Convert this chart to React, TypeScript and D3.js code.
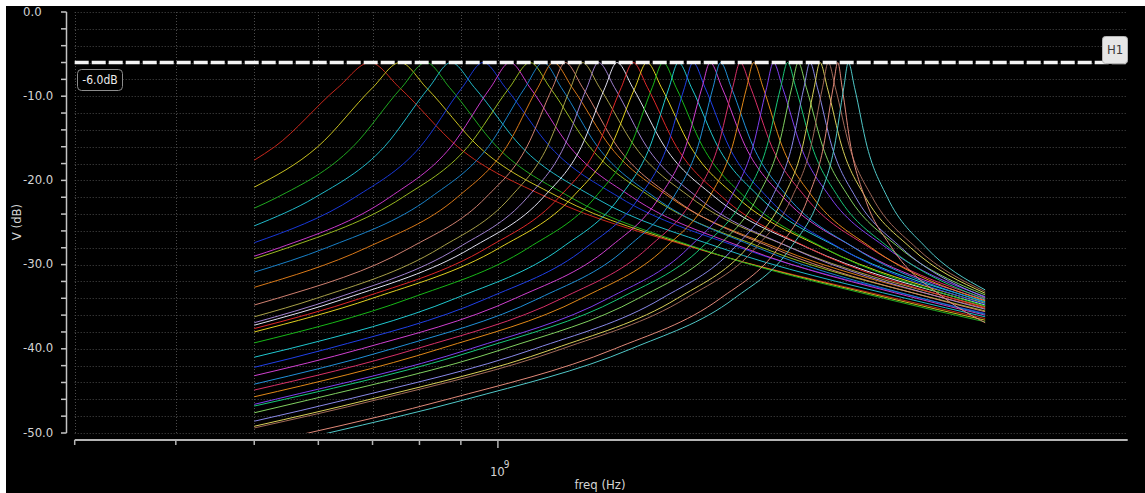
import * as d3 from 'd3';

// frequency in GHz, level in dB; each trace (start, level crossings, peak, end)
const t01 = [[0.5, -17.6], [0.53, -16], [0.634, -9], [0.695, -6], [0.756, -9], [0.892, -16], [1.149, -22], [1.745, -28], [3.092, -34], [4.0, -36.4]];
const t02 = [[0.5, -20.8], [0.599, -16], [0.7, -9], [0.757, -6], [0.816, -9], [0.947, -16], [1.19, -22], [1.755, -28], [3.044, -34], [4.0, -36.6]];
const t03 = [[0.5, -23.3], [0.534, -22], [0.662, -16], [0.76, -9], [0.815, -6], [0.872, -9], [0.997, -16], [1.229, -22], [1.763, -28], [2.995, -34], [4.0, -36.8]];
const t04 = [[0.5, -25.4], [0.595, -22], [0.724, -16], [0.8215, -9], [0.875, -6], [0.936, -9], [1.069, -16], [1.315, -22], [1.882, -28], [3.189, -34], [4.0, -36.2]];
const t05 = [[0.5, -27.4], [0.666, -22], [0.802, -16], [0.903, -9], [0.959, -6], [1.022, -9], [1.16, -16], [1.412, -22], [1.993, -28], [3.338, -34], [4.0, -35.8]];
const t06 = [[0.5, -29.0], [0.537, -28], [0.735, -22], [0.875, -16], [0.979, -9], [1.035, -6], [1.096, -9], [1.227, -16], [1.466, -22], [2.013, -28], [3.288, -34], [4.0, -36.0]];
const t07 = [[0.5, -29.3], [0.55, -28], [0.763, -22], [0.918, -16], [1.033, -9], [1.096, -6], [1.16, -9], [1.298, -16], [1.548, -22], [2.122, -28], [3.46, -34], [4.0, -35.5]];
const t08 = [[0.5, -30.9], [0.614, -28], [0.826, -22], [0.973, -16], [1.08, -9], [1.138, -6], [1.198, -9], [1.328, -16], [1.562, -22], [2.094, -28], [3.34, -34], [4.0, -35.9]];
const t09 = [[0.5, -32.7], [0.688, -28], [0.891, -22], [1.025, -16], [1.12, -9], [1.171, -6], [1.236, -9], [1.377, -16], [1.631, -22], [2.211, -28], [3.567, -34], [4.0, -35.2]];
const t10 = [[0.5, -34.8], [0.534, -34], [0.779, -28], [0.967, -22], [1.086, -16], [1.168, -9], [1.211, -6], [1.273, -9], [1.405, -16], [1.642, -22], [2.182, -28], [3.445, -34], [4.0, -35.6]];
const t11 = [[0.5, -36.2], [0.597, -34], [0.849, -28], [1.036, -22], [1.151, -16], [1.23, -9], [1.271, -6], [1.336, -9], [1.477, -16], [1.729, -22], [2.303, -28], [3.645, -34], [4.0, -35.0]];
const t12 = [[0.5, -36.9], [0.63, -34], [0.893, -28], [1.088, -22], [1.207, -16], [1.288, -9], [1.331, -6], [1.394, -9], [1.527, -16], [1.764, -22], [2.301, -28], [3.56, -34], [4.0, -35.3]];
const t13 = [[0.5, -37.2], [0.649, -34], [0.928, -28], [1.138, -22], [1.268, -16], [1.356, -9], [1.403, -6], [1.468, -9], [1.607, -16], [1.855, -22], [2.414, -28], [3.726, -34], [4.0, -34.8]];
const t14 = [[0.5, -37.6], [0.677, -34], [0.97, -28], [1.19, -22], [1.327, -16], [1.42, -9], [1.469, -6], [1.531, -9], [1.662, -16], [1.895, -22], [2.417, -28], [3.64, -34], [4.0, -35.1]];
const t15 = [[0.5, -38.0], [0.7, -34], [1.005, -28], [1.236, -22], [1.379, -16], [1.477, -9], [1.528, -6], [1.593, -9], [1.73, -16], [1.974, -22], [2.519, -28], [3.8, -34], [4.0, -34.6]];
const t16 = [[0.5, -39.3], [0.779, -34], [1.091, -28], [1.319, -22], [1.457, -16], [1.551, -9], [1.6, -6], [1.661, -9], [1.791, -16], [2.019, -22], [2.527, -28], [3.716, -34], [4.0, -34.9]];
const t17 = [[0.5, -41.0], [0.552, -40], [0.887, -34], [1.199, -28], [1.414, -22], [1.541, -16], [1.627, -9], [1.671, -6], [1.735, -9], [1.87, -16], [2.107, -22], [2.636, -28], [3.873, -34], [4.0, -34.4]];
const t18 = [[0.5, -42.2], [0.616, -40], [0.97, -34], [1.284, -28], [1.495, -22], [1.618, -16], [1.7, -9], [1.742, -6], [1.803, -9], [1.93, -16], [2.152, -22], [2.642, -28], [3.788, -34], [4.0, -34.7]];
const t19 = [[0.5, -43.2], [0.678, -40], [1.051, -34], [1.372, -28], [1.583, -22], [1.706, -16], [1.787, -9], [1.829, -6], [1.892, -9], [2.023, -16], [2.252, -22], [2.758, -28], [3.939, -34], [4.0, -34.2]];
const t20 = [[0.5, -44.2], [0.74, -40], [1.124, -34], [1.443, -28], [1.648, -22], [1.766, -16], [1.844, -9], [1.884, -6], [1.943, -9], [2.068, -16], [2.283, -22], [2.756, -28], [3.857, -34], [4.0, -34.5]];
const t21 = [[0.5, -44.9], [0.793, -40], [1.2, -34], [1.533, -28], [1.747, -22], [1.87, -16], [1.95, -9], [1.992, -6], [2.053, -9], [2.18, -16], [2.4, -22], [2.88, -28], [4.0, -34.0]];
const t22 = [[0.5, -45.7], [0.848, -40], [1.269, -34], [1.609, -28], [1.825, -22], [1.948, -16], [2.029, -9], [2.07, -6], [2.127, -9], [2.246, -16], [2.45, -22], [2.894, -28], [4.0, -34.3]];
const t23 = [[0.5, -46.6], [0.531, -46], [0.925, -40], [1.369, -34], [1.721, -28], [1.941, -22], [2.066, -16], [2.148, -9], [2.19, -6], [2.248, -9], [2.368, -16], [2.574, -22], [3.02, -28], [4.0, -33.8]];
const t24 = [[0.5, -46.8], [0.545, -46], [0.952, -40], [1.415, -34], [1.784, -28], [2.017, -22], [2.149, -16], [2.235, -9], [2.28, -6], [2.334, -9], [2.445, -16], [2.635, -22], [3.043, -28], [4.0, -34.1]];
const t25 = [[0.5, -47.6], [0.588, -46], [1.018, -40], [1.492, -34], [1.862, -28], [2.092, -22], [2.222, -16], [2.307, -9], [2.35, -6], [2.405, -9], [2.52, -16], [2.715, -22], [3.133, -28], [4.0, -33.6]];
const t26 = [[0.5, -48.6], [0.652, -46], [1.11, -40], [1.595, -34], [1.959, -28], [2.182, -22], [2.307, -16], [2.388, -9], [2.43, -6], [2.482, -9], [2.587, -16], [2.767, -22], [3.151, -28], [4.0, -33.9]];
const t27 = [[0.5, -49.2], [0.695, -46], [1.172, -40], [1.667, -34], [2.033, -28], [2.255, -22], [2.379, -16], [2.459, -9], [2.5, -6], [2.553, -9], [2.661, -16], [2.845, -22], [3.236, -28], [4.0, -33.4]];
const t28 = [[0.5, -49.4], [0.712, -46], [1.201, -40], [1.707, -34], [2.082, -28], [2.309, -22], [2.436, -16], [2.518, -9], [2.56, -6], [2.612, -9], [2.719, -16], [2.901, -22], [3.288, -28], [4.0, -33.2]];
const t29 = [[0.5, -51.4], [0.583, -50], [0.866, -46], [1.394, -40], [1.884, -34], [2.221, -28], [2.418, -22], [2.525, -16], [2.595, -9], [2.63, -6], [2.663, -9], [2.729, -16], [2.839, -22], [3.067, -28], [3.565, -34], [4.0, -36.9]];
const t30 = [[0.5, -52.0], [0.617, -50], [0.914, -46], [1.461, -40], [1.96, -34], [2.3, -28], [2.497, -22], [2.605, -16], [2.675, -9], [2.71, -6], [2.759, -9], [2.859, -16], [3.028, -22], [3.383, -28], [4.0, -33.0]];

const traces = [t01, t02, t03, t04, t05, t06, t07, t08, t09, t10, t11, t12, t13, t14, t15,
  t16, t17, t18, t19, t20, t21, t22, t23, t24, t25, t26, t27, t28, t29, t30];

const traceColors = [
  '#c8281c', '#c8c020', '#20a820', '#20b8c8', '#1838d8', '#c838c8', '#98b820', '#1880c8',
  '#d87818', '#d08070', '#a8a048', '#a080d0', '#e0e0f0', '#e02828', '#e0d020', '#18b818',
  '#20c8d0', '#2040e8', '#d040d0', '#2090d8', '#d83068', '#e08818', '#8040f0', '#18c878',
  '#80d060', '#8888e8', '#d8d058', '#a06858', '#e08878', '#50c8c8',
];

const xTicks = [0.3, 0.4, 0.5, 0.6, 0.7, 0.8, 0.9, 1.0];
const yLabels = ['0.0', '-10.0', '-20.0', '-30.0', '-40.0', '-50.0'];
const markerLevel = -6;

const W = 1145;
const H = 493;
const font = '"DejaVu Sans Condensed", "DejaVu Sans", sans-serif';

export default function App() {
  const x = d3.scaleLog().domain([0.3, 6]).range([74.7, 1127.7]);
  const y = d3.scaleLinear().domain([0, -50]).range([12, 433]);
  const line = d3
    .line<number[]>()
    .x((d) => x(d[0]))
    .y((d) => y(d[1]))
    .curve(d3.curveMonotoneX);

  const yMinor = y.ticks(25);
  const yMajor = y.ticks(5);
  const [x0, x1] = x.range();
  const [yTop, yBot] = y.range();
  const ym = y(markerLevel);

  return (
    <svg width={W} height={H} style={{ position: 'absolute', left: 0, top: 0 }} fontFamily={font}>
      <rect width={W} height={H} fill="#fff" />
      <rect x={6} y={6} width={W - 6} height={H - 6} fill="#000" />
      <defs>
        <clipPath id="plot">
          <rect x={x0} y={yTop} width={x1 - x0} height={yBot - yTop} />
        </clipPath>
      </defs>

      {/* grid */}
      <g stroke="#4a4a4a" strokeWidth={1} strokeDasharray="1 2">
        {yMinor.map((v) => (
          <line key={'h' + v} x1={x0} x2={x1} y1={Math.round(y(v)) + 0.5} y2={Math.round(y(v)) + 0.5} />
        ))}
        {xTicks.map((v) => (
          <line key={'v' + v} x1={Math.round(x(v)) + 0.5} x2={Math.round(x(v)) + 0.5} y1={yTop} y2={yBot} />
        ))}
      </g>

      {/* y axis */}
      <g stroke="#c4c4c4" strokeWidth={1.5}>
        <line x1={66.5} x2={66.5} y1={yTop} y2={yBot} />
        {yMinor.map((v) => (
          <line key={'yt' + v} x1={61} x2={66.5} y1={y(v)} y2={y(v)} />
        ))}
      </g>
      <g fill="#d4d4d4" fontSize={13}>
        {yMajor.map((v, i) => (
          <text key={'yl' + v} x={23} y={y(v)} dominantBaseline="middle">
            {yLabels[i]}
          </text>
        ))}
      </g>
      <text
        transform="translate(21,222) rotate(-90)"
        textAnchor="middle"
        fill="#d4d4d4"
        fontSize={13}
      >
        V (dB)
      </text>

      {/* x axis */}
      <g stroke="#b4b4b4">
        <line x1={x0} x2={x1} y1={440} y2={440} strokeWidth={2} />
        {xTicks.map((v) => (
          <line
            key={'xt' + v}
            x1={x(v)}
            x2={x(v)}
            y1={440}
            y2={v === 1 ? 448 : 445}
            strokeWidth={1.5}
          />
        ))}
      </g>
      <text x={x(1) - 8} y={476} fill="#d4d4d4" fontSize={13}>
        10
        <tspan dy={-8} dx={-1} fontSize={10}>
          9
        </tspan>
      </text>
      <text x={600} y={489} textAnchor="middle" fill="#d4d4d4" fontSize={13}>
        freq (Hz)
      </text>

      {/* traces */}
      <g clipPath="url(#plot)" fill="none" strokeWidth={1}>
        {traces.map((t, i) => (
          <path key={i} d={line(t) ?? ''} stroke={traceColors[i]} />
        ))}
      </g>

      {/* H1 marker */}
      <line x1={x0} x2={x1} y1={ym} y2={ym} stroke="#f4f4f4" strokeWidth={3.5} strokeDasharray="14 3" />
      <rect x={77.5} y={69.5} width={45} height={21} rx={4} fill="#000" stroke="#8c8c8c" />
      <text x={100} y={80.5} textAnchor="middle" dominantBaseline="middle" fill="#ececec" fontSize={12}>
        -6.0dB
      </text>
      <rect x={1102.5} y={36.5} width={25} height={27} rx={3} fill="#e6e6e6" stroke="#b4b4b4" />
      <text x={1115} y={50.5} textAnchor="middle" dominantBaseline="middle" fill="#3a3a3a" fontSize={13}>
        H1
      </text>
    </svg>
  );
}
